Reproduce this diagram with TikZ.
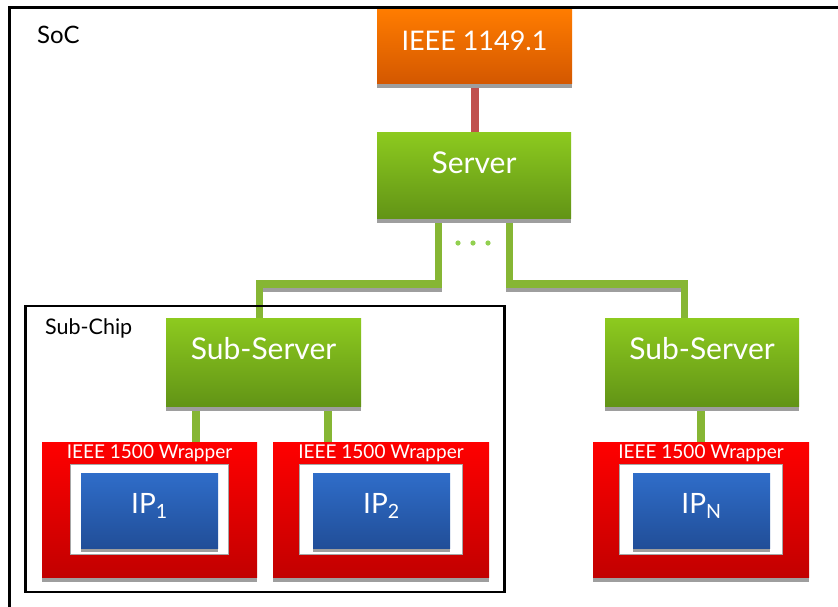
\documentclass[tikz,border=0pt]{standalone}
\usepackage{fontspec}
\setmainfont{Lato}
\usetikzlibrary{backgrounds}
\begin{document}
\begin{tikzpicture}[x=1pt,y=-1pt,
  shadowcol/.style={fill=black!38},
  orangebox/.style={rectangle,inner sep=0pt,top color=orangeT,bottom color=orangeB},
  greenbox/.style={rectangle,inner sep=0pt,top color=greenT,bottom color=greenB},
  wrapbox/.style={rectangle,inner sep=0pt,top color=redT,bottom color=redB,minimum width=216pt,minimum height=135pt},
  innerbox/.style={rectangle,inner sep=0pt,fill=white,draw=black!35,line width=0.8pt,minimum height=90pt},
  ipbox/.style={rectangle,inner sep=0pt,top color=blueT,bottom color=blueB,minimum width=137pt,minimum height=75pt},
  boxtext/.style={anchor=base,inner sep=0pt,text=white,font=\fontsize{30}{30}\selectfont},
  wlabel/.style={anchor=base,inner sep=0pt,text=white,font=\fontsize{19}{19}\selectfont},
  gconn/.style={draw=connG,line width=7.5pt},
  gshadow/.style={draw=black!38,line width=7.5pt},
  frame/.style={draw=black,line width=2.2pt},
  plain/.style={anchor=west,inner sep=0pt,text=black}
]
\definecolor{orangeT}{HTML}{FF7C00}
\definecolor{orangeB}{HTML}{D45800}
\definecolor{greenT}{HTML}{8DCA1F}
\definecolor{greenB}{HTML}{629416}
\definecolor{redT}{HTML}{FF0000}
\definecolor{redB}{HTML}{C20000}
\definecolor{blueT}{HTML}{2F6DC9}
\definecolor{blueB}{HTML}{214E98}
\definecolor{connG}{HTML}{86B634}
\definecolor{connR}{HTML}{C0504D}
\definecolor{dotG}{HTML}{92D050}

\useasboundingbox (0,0) rectangle (838,606);
\clip (0,0) rectangle (838,606);

% SoC frame
\draw[frame] (9.5,7.5) rectangle (860,630);
\node[plain,font=\fontsize{24}{24}\selectfont] (soc) at (37,35) {SoC};

% Sub-Chip frame
\draw[frame] (25.5,306) rectangle (504.5,592);
\node[plain,font=\fontsize{21.5}{21.5}\selectfont] (subchip) at (45,328) {Sub-Chip};

% boxes
\node[orangebox,minimum width=195pt,minimum height=74pt] (ieee) at (474.5,46) {};
\node[greenbox,minimum width=194pt,minimum height=86pt] (server) at (474,175) {};
\node[greenbox,minimum width=195pt,minimum height=88pt] (subL) at (263.5,362) {};
\node[greenbox,minimum width=194pt,minimum height=88pt] (subR) at (702,362) {};
\node[wrapbox,minimum width=215pt] (w1) at (149.5,509.5) {};
\node[wrapbox] (w2) at (381,509.5) {};
\node[wrapbox] (wN) at (701,509.5) {};

% box texts
\node[boxtext,font=\fontsize{27}{27}\selectfont] (ieeeT) at ([yshift=-4pt]ieee.center) {IEEE 1149.1};
\node[boxtext] (serverT) at ([yshift=2pt]server.center) {Server};
\node[boxtext] (subLT) at ([yshift=3pt]subL.center) {Sub-Server};
\node[boxtext] (subRT) at ([yshift=3pt]subR.center) {Sub-Server};

% wrapper labels
\node[wlabel] (w1l) at ([yshift=-16.5pt]w1.north) {IEEE 1500 Wrapper};
\node[wlabel] (w2l) at ([yshift=-16.5pt]w2.north) {IEEE 1500 Wrapper};
\node[wlabel] (wNl) at ([yshift=-16.5pt]wN.north) {IEEE 1500 Wrapper};

% inner white frames
\node[innerbox,minimum width=158pt] (in1) at (149,509) {};
\node[innerbox,minimum width=163pt] (in2) at (380.5,509) {};
\node[innerbox,minimum width=163pt] (inN) at (700.5,509.5) {};

% IP shadows and boxes
\fill[shadowcol] (81,548) rectangle (218,552);
\fill[shadowcol] (313,548) rectangle (450,552);
\fill[shadowcol] (633,548) rectangle (770,552);
\node[ipbox] (ip1) at (149.5,510.5) {};
\node[ipbox] (ip2) at (381.5,510.5) {};
\node[ipbox] (ipN) at (701.5,510.5) {};
\node[boxtext,font=\fontsize{28}{28}\selectfont] (ip1T) at ([yshift=-2.5pt]ip1.center) {IP\textsubscript{1}};
\node[boxtext,font=\fontsize{28}{28}\selectfont] (ip2T) at ([yshift=-2.5pt]ip2.center) {IP\textsubscript{2}};
\node[boxtext,font=\fontsize{28}{28}\selectfont] (ipNT) at ([yshift=-2.5pt]ipN.center) {IP\textsubscript{N}};

\begin{pgfonlayer}{background}
\fill[white] (0,0) rectangle (838,606);
% connectors
\draw[draw=connR,line width=8pt] ([xshift=0.5pt]ieee.south) -- ([xshift=1pt]server.north);
\draw[gshadow] ([xshift=-35.5pt,yshift=-4pt]server.south) -- (438.5,288) -| ([xshift=-4pt,yshift=-4pt]subL.north);
\draw[gshadow] ([xshift=35.5pt,yshift=-4pt]server.south) -- (509.5,288) -| ([xshift=-17.5pt,yshift=-4pt]subR.north);
\draw[gconn] ([xshift=-35.5pt]server.south) -- (438.5,284) -| ([xshift=-4pt]subL.north);
\draw[gconn] ([xshift=35.5pt]server.south) -- (509.5,284) -| ([xshift=-17.5pt]subR.north);
\draw[gconn,line width=8pt] ([xshift=-67.5pt]subL.south) -- (196,0 |- w1.north);
\draw[gconn,line width=8pt] ([xshift=64.5pt]subL.south) -- (328,0 |- w2.north);
\draw[gconn,line width=8pt] ([xshift=-1pt]subR.south) -- (701,0 |- wN.north);
% dots
\fill[dotG] (458,243) circle (2.6) (473,243) circle (2.6) (488,243) circle (2.6);
% shadows of boxes
\foreach \n in {ieee,server,subL,subR,w1,w2,wN}{
  \fill[shadowcol] (\n.south west) rectangle ([yshift=-4.5pt]\n.south east);
}
\end{pgfonlayer}
\end{tikzpicture}
\end{document}
